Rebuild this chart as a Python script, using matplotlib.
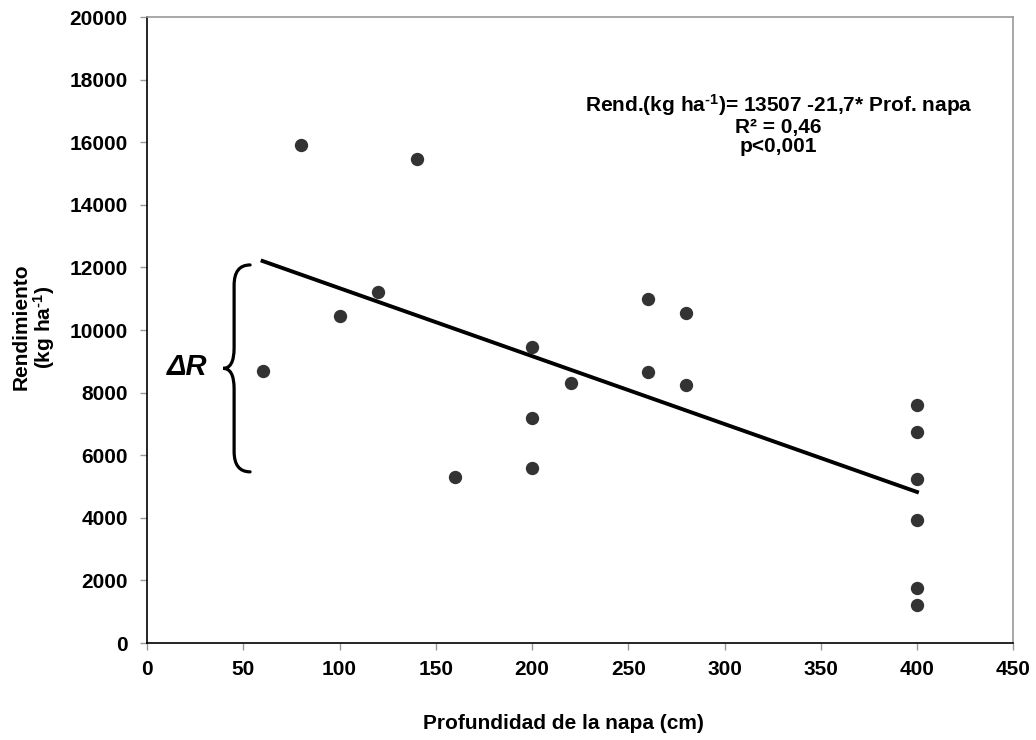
import matplotlib
matplotlib.use("Agg")
import matplotlib.pyplot as plt
from matplotlib.path import Path
from matplotlib.patches import PathPatch

plt.rcParams['font.family'] = ['Liberation Sans', 'DejaVu Sans']
plt.rcParams['font.weight'] = 'bold'
plt.rcParams['mathtext.fontset'] = 'custom'
plt.rcParams['mathtext.rm'] = 'Liberation Sans:bold'
plt.rcParams['mathtext.bf'] = 'Liberation Sans:bold'
plt.rcParams['mathtext.it'] = 'Liberation Sans:bold:italic'

# datos
profundidad = [60, 80, 100, 120, 140, 160, 200, 200, 200, 220,
               260, 260, 280, 280, 400, 400, 400, 400, 400, 400]
rendimiento = [8700, 15900, 10450, 11200, 15450, 5300, 9450, 7200, 5600, 8300,
               11000, 8650, 10550, 8250, 7600, 6750, 5250, 3920, 1750, 1220]

# recta de regresion
intercepto = 13507
pendiente = -21.7
x_recta = [60, 400]
y_recta = [intercepto + pendiente * x for x in x_recta]

# llave del delta R
llave_x = 45.2
llave_y = (5470, 12080)

fig = plt.figure(figsize=(10.36, 7.4), dpi=100)
ax = fig.add_axes([0.142, 0.131, 0.836, 0.846])

ax.scatter(profundidad, rendimiento, s=92, color='#333333', zorder=3, linewidths=0)
ax.plot(x_recta, y_recta, color='black', linewidth=2.8, zorder=2)

ax.set_xlim(0, 450)
ax.set_ylim(0, 20000)
ax.set_xticks(range(0, 451, 50))
ax.set_yticks(range(0, 20001, 2000))
ax.tick_params(axis='both', labelsize=15, direction='out', length=5, color='#999999', width=1)
for lab in ax.get_xticklabels() + ax.get_yticklabels():
    lab.set_fontweight('bold')
ax.tick_params(axis='x', pad=7)
ax.tick_params(axis='y', pad=9)
for s in ['top', 'right']:
    ax.spines[s].set_color('#999999')
    ax.spines[s].set_linewidth(1.2)
ax.spines['left'].set_linewidth(1.2)
ax.spines['bottom'].set_linewidth(1.2)

# titulos de ejes
fig.text(0.544, 0.022, 'Profundidad de la napa (cm)', fontsize=15, fontweight='bold',
         ha='center', va='center')
fig.text(0.033, 0.558, 'Rendimiento\n(kg ha$^{\\text{-}1}$)', fontsize=15, fontweight='bold',
         ha='center', va='center', rotation=90, linespacing=1.0, multialignment='center')

ax.text(0.729, 0.829, 'Rend.(kg ha$^{\\text{-}1}$)= 13507 -21,7* Prof. napa\nR² = 0,46\np<0,001',
        transform=ax.transAxes, ha='center', va='center', fontsize=15,
        fontweight='bold', linespacing=1.0)

# llave
y0, y1 = llave_y
ym = (y0 + y1) / 2
dx_fin = 8.3
dx_pico = 5.7
r = 650
pts = [(llave_x + dx_fin, y1), (llave_x, y1), (llave_x, y1 - r),
       (llave_x, ym + r),
       (llave_x, ym), (llave_x - dx_pico, ym),
       (llave_x, ym), (llave_x, ym - r),
       (llave_x, y0 + r),
       (llave_x, y0), (llave_x + dx_fin, y0)]
codes = [Path.MOVETO, Path.CURVE3, Path.CURVE3,
         Path.LINETO,
         Path.CURVE3, Path.CURVE3,
         Path.CURVE3, Path.CURVE3,
         Path.LINETO,
         Path.CURVE3, Path.CURVE3]
ax.add_patch(PathPatch(Path(pts, codes), fill=False, lw=2.3, color='black',
                       clip_on=False, capstyle='round'))
ax.text(20.8, ym + 40, 'ΔR', fontsize=21, fontweight='bold', fontstyle='italic',
        ha='center', va='center')

fig.savefig('out.png', dpi=100)
